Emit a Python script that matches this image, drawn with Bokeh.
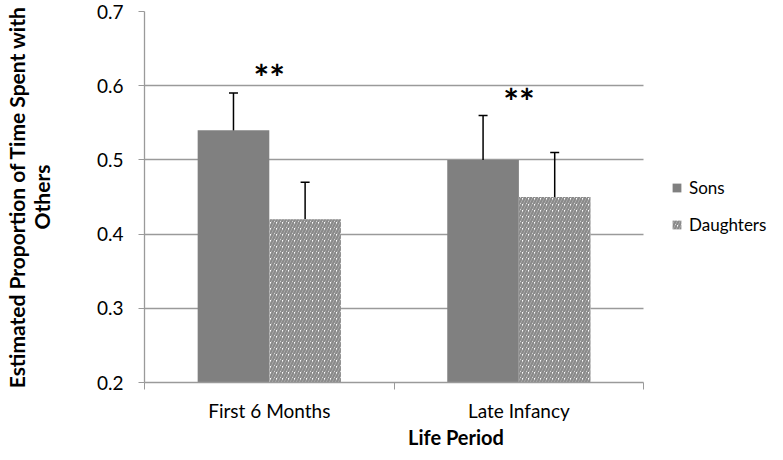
from bokeh.plotting import figure
from bokeh.models import (ColumnDataSource, Range1d, FixedTicker, Whisker,
                          Legend, LegendItem, TeeHead)
from bokeh.core.properties import value
from bokeh.embed import file_html
from bokeh.resources import INLINE

# ---- data ----
categories = ["First 6 Months", "Late Infancy"]
series = ["Sons", "Daughters"]
sons = [0.54, 0.50]
sons_err = [0.05, 0.06]
daughters = [0.42, 0.45]
daughters_err = [0.05, 0.06]
sig_labels = ["**", "**"]
sig_y = [0.622, 0.590]
y_ticks = [0.2, 0.3, 0.4, 0.5, 0.6, 0.7]

FONT = "Lato"
AXIS_GRAY = "#9a9a9a"
SONS_COLOR = "#808080"
HATCH_GRAY = "#8a8a8a"

# layout: each category takes 254 px, the legend area to the right 126 px
CAT_PX = 254.0
LEGEND_PX = 126.0
n = len(categories)
centers = [i + 0.5 for i in range(n)]
bounds = [float(i) for i in range(n + 1)]
bar_w = 0.287
sons_x = [c - bar_w / 2 for c in centers]
dau_x = [c + bar_w / 2 for c in centers]

p = figure(width=767, height=452,
           x_range=Range1d(0, n + LEGEND_PX / CAT_PX),
           y_range=Range1d(y_ticks[0], y_ticks[-1]),
           output_backend="svg", toolbar_location=None,
           min_border_left=133, min_border_right=0,
           min_border_top=11, min_border_bottom=70)
p.outline_line_color = None
p.background_fill_color = "white"

src_s = ColumnDataSource(dict(x=sons_x, top=sons,
                              upper=[v + e for v, e in zip(sons, sons_err)],
                              lower=[v - e for v, e in zip(sons, sons_err)]))
src_d = ColumnDataSource(dict(x=dau_x, top=daughters,
                              upper=[v + e for v, e in zip(daughters, daughters_err)],
                              lower=[v - e for v, e in zip(daughters, daughters_err)]))

r_s = p.vbar(x="x", top="top", bottom=0, width=bar_w, source=src_s,
             fill_color=SONS_COLOR, line_color=None)
r_d = p.vbar(x="x", top="top", bottom=0, width=bar_w, source=src_d,
             fill_color="white", line_color=None,
             hatch_pattern="/", hatch_color=HATCH_GRAY,
             hatch_scale=6, hatch_weight=2.5)

for src in (src_s, src_d):
    w = Whisker(base="x", upper="upper", lower="lower", source=src,
                line_color="black", line_width=1.5,
                upper_head=TeeHead(size=9, line_color="black", line_width=1.5),
                lower_head=TeeHead(size=9, line_color="black", line_width=1.5))
    p.add_layout(w)

p.text(x=centers, y=sig_y, text=sig_labels, text_font=value(FONT),
       text_font_style="bold", text_font_size="37px", text_align="center",
       text_baseline="middle", y_offset=7, text_color="black")

legend = Legend(items=[LegendItem(label=series[0], renderers=[r_s]),
                       LegendItem(label=series[1], renderers=[r_d])],
                location=(527, 147), orientation="vertical",
                glyph_width=11, glyph_height=11, label_height=22,
                spacing=15, padding=0, margin=0, label_standoff=7,
                label_text_font=FONT, label_text_font_size="17px",
                label_text_color="black",
                border_line_color=None, background_fill_alpha=0)
p.add_layout(legend)

# y axis
ya = p.left[0]
ya.ticker = FixedTicker(ticks=y_ticks)
ya.minor_tick_line_color = None
ya.major_tick_in = 0
ya.major_tick_out = 6
ya.major_tick_line_color = AXIS_GRAY
ya.axis_line_color = AXIS_GRAY
ya.axis_line_width = 1.3
ya.major_label_standoff = 15
ya.major_label_text_font = FONT
ya.major_label_text_font_size = "19px"
ya.major_label_text_color = "black"
ya.axis_label = "Estimated Proportion of Time Spent with\nOthers"
ya.axis_label_text_font = FONT
ya.axis_label_text_font_style = "bold"
ya.axis_label_text_font_size = "21px"
ya.axis_label_text_line_height = 1.0
ya.axis_label_text_color = "black"
ya.axis_label_standoff = 40

# x axis
xa = p.below[0]
xa.bounds = (bounds[0], bounds[-1])
xa.ticker = FixedTicker(ticks=centers, minor_ticks=bounds)
xa.major_label_overrides = {c: name for c, name in zip(centers, categories)}
xa.major_tick_line_color = None
xa.major_tick_in = 0
xa.major_tick_out = 6
xa.minor_tick_in = 0
xa.minor_tick_out = 7
xa.minor_tick_line_color = AXIS_GRAY
xa.axis_line_color = AXIS_GRAY
xa.axis_line_width = 1.3
xa.major_label_standoff = 9
xa.major_label_text_font = FONT
xa.major_label_text_font_size = "19px"
xa.major_label_text_color = "black"
xa.axis_label = "Life Period"
xa.axis_label_text_font = FONT
xa.axis_label_text_font_style = "bold"
xa.axis_label_text_font_size = "20px"
xa.axis_label_text_color = "black"
xa.axis_label_standoff = 0

p.xgrid.visible = False
p.ygrid.ticker = FixedTicker(ticks=y_ticks)
p.ygrid.grid_line_color = AXIS_GRAY
p.ygrid.grid_line_width = 1.3
try:
    p.ygrid.cross_bounds = (bounds[0], bounds[-1])
except AttributeError:
    pass

open("out.html", "w").write(file_html(p, INLINE))
